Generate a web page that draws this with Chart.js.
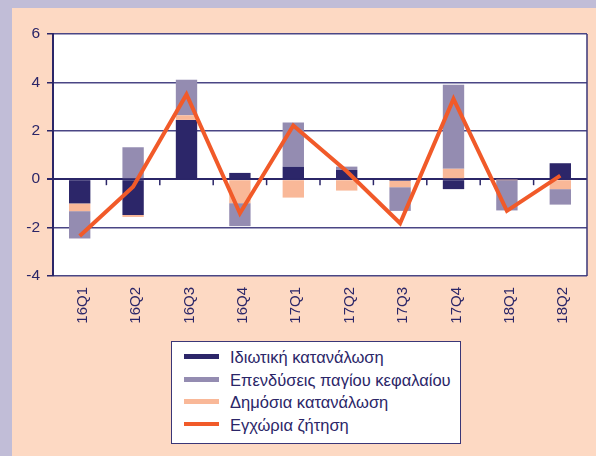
<!DOCTYPE html>
<html>
<head>
<meta charset="utf-8">
<script src="https://cdn.jsdelivr.net/npm/chart.js@4"></script>
<style>
  html, body { margin: 0; padding: 0; }
  body { width: 596px; height: 456px; background: #c1bdd7; position: relative; overflow: hidden; font-family: Arial, "Liberation Sans", sans-serif; }
  #panel { position: absolute; left: 12px; top: 8px; right: 0; bottom: 0; background: #fdd9c3; }
  #wrap { position: absolute; left: 0; top: 0; width: 596px; height: 456px; }
  #legend { position: absolute; left: 171px; top: 341px; width: 288px; height: 97px; background: #fff; border: 1.5px solid #3a3677; padding-top: 4px; box-sizing: content-box; }
  #legend div { height: 22.5px; line-height: 22.5px; font-size: 16.5px; color: #2b2668; white-space: nowrap; }
  #legend span { display: inline-block; width: 35px; height: 5px; margin: 0 11px 0 12px; vertical-align: middle; position: relative; top: -2px; }
</style>
</head>
<body>
<div id="panel"></div>
<div id="wrap"><canvas id="chart" width="596" height="456"></canvas></div>
<div id="legend"></div>
<script>
(function () {
  "use strict";

  var quarters = ["16Q1", "16Q2", "16Q3", "16Q4", "17Q1", "17Q2", "17Q3", "17Q4", "18Q1", "18Q2"];
  var privateCons = [-1.0, -1.48, 2.45, 0.26, 0.52, 0.38, -0.07, -0.41, 0.0, 0.66];
  var publicCons = [-0.32, -0.08, 0.19, -0.99, -0.76, -0.47, -0.26, 0.43, -0.02, -0.41];
  var investment = [-1.13, 1.32, 1.47, -0.95, 1.82, 0.14, -0.98, 3.47, -1.27, -0.64];
  var domesticDemand = [-2.35, -0.31, 3.5, -1.41, 2.22, 0.33, -1.82, 3.32, -1.31, 0.15];
  var yTicks = [-4, -2, 0, 2, 4, 6];

  var NAVY = "#2b2668";
  var COLORS = { privateCons: "#2c2669", investment: "#948cb1", publicCons: "#f9b898", line: "#f15a29" };
  // legend lists investment before public consumption, stacking does the reverse
  var legendOrder = [0, 2, 1, 3];

  var plotBg = {
    id: "plotBg",
    beforeDraw: function (chart) {
      var a = chart.chartArea, ctx = chart.ctx;
      ctx.save();
      ctx.fillStyle = "#fff";
      ctx.fillRect(a.left, a.top, a.right - a.left, a.bottom - a.top);
      ctx.restore();
    },
    afterDraw: function (chart) {
      var a = chart.chartArea, ctx = chart.ctx;
      ctx.save();
      ctx.strokeStyle = "#3a3677";
      ctx.lineWidth = 1.5;
      ctx.beginPath();
      ctx.moveTo(a.right, a.top);
      ctx.lineTo(a.right, a.bottom);
      ctx.stroke();
      ctx.restore();
    }
  };

  // category tick marks hanging from the zero line
  var zeroTicks = {
    id: "zeroTicks",
    beforeDatasetsDraw: function (chart) {
      var x = chart.scales.x, y0 = chart.scales.y.getPixelForValue(0), ctx = chart.ctx;
      ctx.save();
      ctx.strokeStyle = NAVY;
      ctx.lineWidth = 1.5;
      for (var i = 1; i < quarters.length; i++) {
        var px = (x.getPixelForValue(i - 1) + x.getPixelForValue(i)) / 2;
        ctx.beginPath();
        ctx.moveTo(px, y0);
        ctx.lineTo(px, y0 + 6);
        ctx.stroke();
      }
      ctx.restore();
    }
  };

  function barSet(label, values, color) {
    return { type: "bar", label: label, data: values, backgroundColor: color, borderWidth: 0,
      barPercentage: 0.4, categoryPercentage: 1, stack: "s", order: 1 };
  }

  var chart = new Chart(document.getElementById("chart"), {
    type: "bar",
    data: {
      labels: quarters,
      datasets: [
        barSet("Ιδιωτική κατανάλωση", privateCons, COLORS.privateCons),
        barSet("Δημόσια κατανάλωση", publicCons, COLORS.publicCons),
        barSet("Επενδύσεις παγίου κεφαλαίου", investment, COLORS.investment),
        { type: "line", label: "Εγχώρια ζήτηση", data: domesticDemand, borderColor: COLORS.line,
          backgroundColor: COLORS.line, borderWidth: 4, pointRadius: 0, tension: 0, fill: false, order: 0 }
      ]
    },
    options: {
      responsive: false,
      animation: false,
      layout: { padding: { top: 34, right: 9, left: 0, bottom: 0 } },
      plugins: { legend: { display: false }, tooltip: { enabled: false } },
      scales: {
        x: {
          stacked: true,
          grid: { display: false, drawTicks: false },
          border: { display: false },
          ticks: { color: NAVY, font: { family: "Arial, 'Liberation Sans'", size: 15 },
            minRotation: 90, maxRotation: 90, padding: 11, labelOffset: 3 },
          afterFit: function (s) { s.height = 180; }
        },
        y: {
          stacked: true,
          min: yTicks[0],
          max: yTicks[yTicks.length - 1],
          afterBuildTicks: function (s) { s.ticks = yTicks.map(function (v) { return { value: v }; }); },
          grid: {
            color: function (c) { return c.tick && c.tick.value === 0 ? NAVY : "#4a4685"; },
            lineWidth: function (c) { return c.tick && c.tick.value === 0 ? 2 : 1.5; },
            tickLength: 6, tickColor: NAVY
          },
          border: { display: true, color: NAVY, width: 2 },
          ticks: { color: NAVY, font: { family: "Arial, 'Liberation Sans'", size: 15.5 }, padding: 7 },
          afterFit: function (s) { s.width = 53; }
        }
      }
    },
    plugins: [plotBg, zeroTicks]
  });

  var legend = document.getElementById("legend");
  legend.innerHTML = legendOrder.map(function (i) {
    var ds = chart.data.datasets[i];
    var h = ds.type === "line" ? 4 : 5;
    var color = ds.type === "line" ? ds.borderColor : ds.backgroundColor;
    return '<div><span style="background:' + color + ';height:' + h + 'px"></span>' + ds.label + '</div>';
  }).join("");
})();
</script>
</body>
</html>
